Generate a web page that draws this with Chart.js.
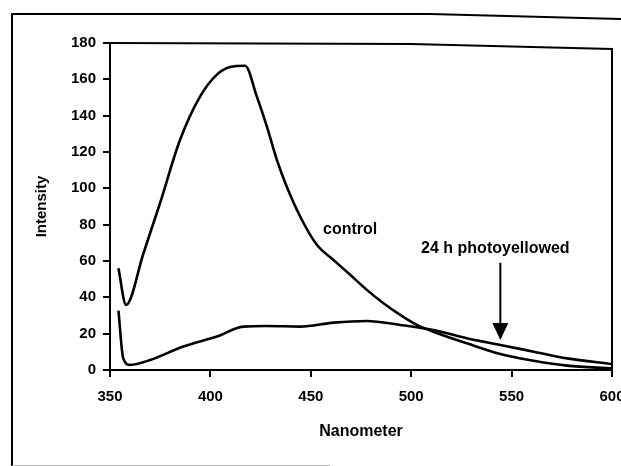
<!DOCTYPE html>
<html>
<head>
<meta charset="utf-8">
<script src="https://cdn.jsdelivr.net/npm/chart.js@4/dist/chart.umd.min.js"></script>
<style>
  html, body { margin: 0; padding: 0; background: #fff; }
  #wrap { width: 621px; height: 466px; position: relative; }
</style>
</head>
<body>
<div id="wrap"><canvas id="c" width="621" height="466"></canvas></div>
<script>
// ---- data ----
const controlNm = [354.2, 358.0, 366.6, 374.9, 384.9, 394.9, 403.2, 409.8, 417.3, 423.1, 428.1, 433.1, 438.0, 444.7, 453.0, 461.3, 469.6, 477.9, 486.2, 494.5, 502.8, 511.0, 527.7, 544.4, 561.0, 577.6, 600.0];
const controlIntensity = [56.0, 35.8, 64.0, 91.8, 126.7, 150.6, 162.6, 166.8, 167.5, 150.6, 134.1, 115.7, 101.0, 84.5, 68.9, 60.6, 52.4, 44.1, 36.7, 30.3, 24.8, 21.1, 14.7, 8.8, 5.1, 2.4, 0.9];

const yellowNm = [354.2, 356.6, 360.0, 370.0, 386.5, 403.2, 416.4, 428.0, 444.7, 461.3, 477.9, 494.5, 511.0, 527.7, 544.4, 561.0, 577.6, 600.0];
const yellowIntensity = [32.7, 6.4, 2.8, 5.5, 12.9, 18.4, 23.9, 24.2, 23.9, 26.1, 27.0, 24.8, 22.0, 17.5, 13.8, 10.1, 6.4, 3.3];

const xTicks = [350, 400, 450, 500, 550, 600];
const yTicks = [0, 20, 40, 60, 80, 100, 120, 140, 160, 180];
const seriesNames = ['control', '24 h photoyellowed'];
const axisTitles = ['Nanometer', 'Intensity'];

// annotation anchors (data units)
const controlLabelAt = [469.6, 77.5];
const yellowLabelAt = [541.9, 67];
const arrowFrom = [544.4, 59];
const arrowTo = [544.4, 16.5];

const FONT = '"Liberation Sans", Arial, sans-serif';

const toPts = (xs, ys) => xs.map((x, i) => ({ x: x, y: ys[i] }));

const decor = {
  id: 'decor',
  afterDraw(chart) {
    const { ctx, chartArea: a, scales: { x, y } } = chart;
    ctx.save();
    // outer frame
    ctx.strokeStyle = '#000';
    ctx.lineWidth = 2;
    ctx.beginPath();
    ctx.moveTo(12, 466);
    ctx.lineTo(12, 14);
    ctx.lineTo(430, 14);
    ctx.lineTo(621, 19);
    ctx.stroke();
    ctx.strokeStyle = '#bbb';
    ctx.lineWidth = 1;
    ctx.beginPath();
    ctx.moveTo(12, 465.5);
    ctx.lineTo(330, 465.5);
    ctx.stroke();
    // plot box top + right
    ctx.strokeStyle = '#000';
    ctx.lineWidth = 2;
    ctx.beginPath();
    ctx.moveTo(a.left, a.top);
    ctx.lineTo(a.left + (a.right - a.left) * 0.6, a.top + 1);
    ctx.lineTo(a.right, a.top + 6);
    ctx.lineTo(a.right, a.bottom);
    ctx.stroke();
    // labels
    ctx.fillStyle = '#000';
    ctx.font = 'bold 16px ' + FONT;
    ctx.textAlign = 'center';
    ctx.textBaseline = 'middle';
    ctx.fillText(seriesNames[0], x.getPixelForValue(controlLabelAt[0]), y.getPixelForValue(controlLabelAt[1]));
    ctx.fillText(seriesNames[1], x.getPixelForValue(yellowLabelAt[0]), y.getPixelForValue(yellowLabelAt[1]));
    // arrow
    const ax = x.getPixelForValue(arrowFrom[0]);
    const y1 = y.getPixelForValue(arrowFrom[1]);
    const y2 = y.getPixelForValue(arrowTo[1]);
    ctx.lineWidth = 2;
    ctx.beginPath();
    ctx.moveTo(ax, y1);
    ctx.lineTo(ax, y2 - 14);
    ctx.stroke();
    ctx.beginPath();
    ctx.moveTo(ax - 8, y2 - 17);
    ctx.lineTo(ax + 8, y2 - 17);
    ctx.lineTo(ax, y2);
    ctx.closePath();
    ctx.fill();
    ctx.restore();
  }
};

new Chart(document.getElementById('c'), {
  type: 'line',
  data: {
    datasets: [
      {
        label: seriesNames[0],
        data: toPts(controlNm, controlIntensity),
        borderColor: '#000',
        borderWidth: 2.6,
        pointRadius: 0,
        fill: false,
        cubicInterpolationMode: 'monotone'
      },
      {
        label: seriesNames[1],
        data: toPts(yellowNm, yellowIntensity),
        borderColor: '#000',
        borderWidth: 2.6,
        pointRadius: 0,
        fill: false,
        cubicInterpolationMode: 'monotone'
      }
    ]
  },
  options: {
    responsive: false,
    animation: false,
    events: [],
    layout: { padding: { left: 0, top: 43, right: 9, bottom: 0 } },
    plugins: { legend: { display: false }, tooltip: { enabled: false } },
    scales: {
      x: {
        type: 'linear',
        min: xTicks[0],
        max: xTicks[xTicks.length - 1],
        afterBuildTicks: s => { s.ticks = xTicks.map(v => ({ value: v })); },
        afterFit: s => { s.height = 96; s.paddingLeft = 0; s.paddingRight = 0; },
        border: { display: true, color: '#000', width: 2 },
        grid: { drawOnChartArea: false, drawTicks: true, tickLength: 7, color: '#000', lineWidth: 2 },
        ticks: { color: '#000', font: { family: FONT, size: 15, weight: 'bold' }, padding: 11, maxRotation: 0 },
        title: { display: true, text: axisTitles[0], color: '#000', font: { family: FONT, size: 16, weight: 'bold' }, padding: { top: 0, bottom: 25 } }
      },
      y: {
        min: yTicks[0],
        max: yTicks[yTicks.length - 1],
        afterBuildTicks: s => { s.ticks = yTicks.map(v => ({ value: v })); },
        afterFit: s => { s.width = 110; s.paddingTop = 0; s.paddingBottom = 0; },
        border: { display: true, color: '#000', width: 2 },
        grid: { drawOnChartArea: false, drawTicks: true, tickLength: 7, color: '#000', lineWidth: 2 },
        ticks: { color: '#000', font: { family: FONT, size: 15, weight: 'bold' }, padding: 7 },
        title: { display: true, text: axisTitles[1], color: '#000', font: { family: FONT, size: 15, weight: 'bold' }, padding: { top: 33, bottom: 0 } }
      }
    }
  },
  plugins: [decor]
});
</script>
</body>
</html>
